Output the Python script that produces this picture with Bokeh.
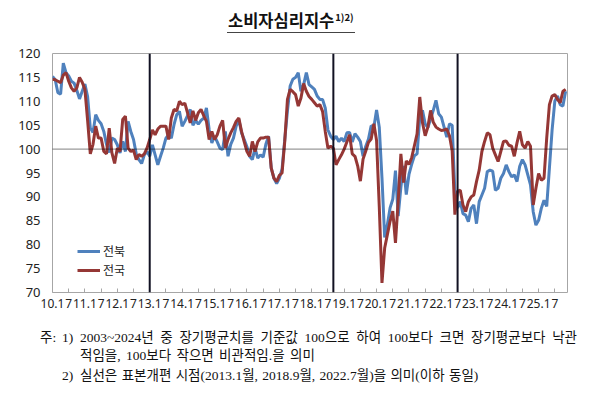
from bokeh.plotting import figure
from bokeh.layouts import column
from bokeh.models import (Range1d, FixedTicker, Span, Div, Legend, LegendItem)
from bokeh.embed import file_html
from bokeh.resources import INLINE

# ---------------- data ----------------
start_year = 2010
years = list(range(2010, 2026))
revision_months = [36, 104, 150]          # 2013.1, 2018.9, 2022.7 (months since 2010.1)
series_names = ["전북", "전국"]

jeonbuk = [
    115.2, 114.5, 111.8, 111.5, 118.0, 116.0, 115.3, 114.2, 113.8, 112.3, 110.5, 112.1,
    113.6, 111.0, 104.4, 103.5, 107.2, 106.0, 105.3, 103.7, 101.0, 99.3, 102.3, 102.0,
    100.9, 99.2, 101.6, 99.5, 105.8, 103.7, 102.0, 99.0, 97.8, 97.0, 98.8, 99.5,
    98.5, 100.9, 98.8, 96.7, 98.5, 100.2, 102.3, 103.0, 102.3, 105.1, 107.2, 107.9,
    104.8, 105.8, 107.0, 108.3, 105.0, 106.0, 105.2, 106.0, 106.5, 108.6, 104.1, 101.3,
    102.7, 101.5, 100.2, 99.9, 103.7, 98.5, 101.0, 102.3, 104.8, 106.2, 103.4, 102.0,
    100.5, 98.5, 97.8, 100.2, 98.1, 98.8, 98.3, 101.0, 102.7, 96.0, 93.9, 92.8,
    93.9, 95.8, 102.0, 108.0, 113.2, 114.6, 115.0, 116.0, 112.1, 113.5, 116.0, 113.5,
    113.0, 112.5, 111.1, 110.4, 110.4, 108.6, 104.0, 102.7, 102.0, 102.7, 101.6, 102.3,
    101.6, 103.4, 103.5, 101.5, 103.2, 102.5, 101.6, 98.5, 100.6, 102.1, 104.9, 104.6,
    108.2, 104.6, 94.0, 81.5, 84.2, 87.7, 89.5, 95.5, 86.0, 92.0, 96.5, 90.5,
    94.7, 96.8, 98.6, 99.0, 106.7, 108.1, 105.3, 104.5, 106.3, 108.1, 110.2, 107.4,
    106.7, 104.6, 102.5, 105.3, 105.0, 91.0, 87.7, 89.0, 86.5, 86.2, 84.8, 87.6,
    88.3, 84.4, 89.0, 90.4, 91.8, 95.3, 95.6, 95.4, 91.4, 91.8, 93.9, 94.9,
    96.7, 95.3, 94.2, 94.6, 93.2, 96.4, 97.8, 96.7, 94.6, 92.5, 86.9, 84.1,
    85.1, 87.6, 89.3, 88.0, 96.0, 104.0, 110.0, 111.1, 109.3, 109.0, 112.1,
]

jeonguk = [
    114.6, 114.5, 114.2, 113.9, 115.5, 116.0, 114.2, 112.8, 112.1, 112.8, 115.0, 114.0,
    112.5, 106.0, 99.0, 101.0, 104.8, 102.3, 102.3, 99.5, 99.0, 104.4, 99.2, 97.0,
    100.2, 99.5, 106.2, 106.9, 100.2, 99.5, 99.8, 97.8, 98.9, 98.5, 99.0, 100.2,
    102.0, 104.0, 103.0, 104.2, 104.8, 104.8, 104.8, 102.0, 106.5, 108.3, 108.0, 110.0,
    109.3, 109.6, 107.6, 105.5, 108.0, 106.0, 107.6, 108.3, 107.0, 105.8, 102.0, 103.7,
    102.0, 103.0, 104.8, 106.0, 100.2, 102.0, 103.4, 104.5, 105.8, 106.5, 103.7, 101.5,
    99.5, 98.5, 101.6, 99.5, 101.5, 102.3, 102.3, 102.5, 102.5, 96.0, 93.9, 93.2,
    94.5, 95.0, 101.6, 110.4, 112.5, 112.0, 111.4, 109.0, 110.7, 113.7, 112.1, 111.0,
    110.4, 109.7, 109.0, 109.3, 107.9, 103.7, 100.2, 100.6, 100.2, 96.7, 97.8, 98.8,
    100.0, 101.5, 103.0, 99.0, 98.5, 96.5, 93.3, 97.9, 99.6, 101.4, 102.1, 105.3,
    101.8, 88.0, 72.0, 79.3, 82.1, 84.9, 87.0, 80.4, 89.1, 99.0, 93.0, 97.5,
    96.8, 98.2, 100.7, 103.2, 110.9, 105.5, 102.8, 104.6, 108.1, 105.6, 104.6, 104.2,
    103.9, 104.0, 104.2, 102.8, 99.6, 86.3, 91.2, 91.4, 88.3, 86.9, 89.0, 90.0,
    90.4, 93.2, 95.6, 99.5, 101.6, 103.4, 103.0, 100.2, 98.8, 97.4, 99.5, 101.6,
    101.7, 100.8, 100.6, 98.5, 101.3, 103.7, 100.9, 100.2, 101.6, 100.6, 88.3, 91.8,
    94.9, 93.5, 93.9, 102.3, 109.3, 111.1, 111.4, 110.4, 109.7, 112.1, 112.5,
]

months = list(range(len(jeonbuk)))
y_ticks = [70, 75, 80, 85, 90, 95, 100, 105, 110, 115, 120]
x_tick_months = [12 * (y - start_year) + k for y in years for k in (0, 6)]
x_tick_labels = [f"{y % 100}.1" if k == 0 else "7" for y in years for k in (0, 6)]

title_text = "소비자심리지수"
title_sup = "1)2)"
note_1 = "2003~2024년 중 장기평균치를 기준값 100으로 하여 100보다 크면 장기평균보다 낙관"
note_1b = "적임을, 100보다 작으면 비관적임.을 의미"
note_2 = "실선은 표본개편 시점(2013.1월, 2018.9월, 2022.7월)을 의미(이하 동일)"

# ---------------- layout ----------------
W = 584
TOP_H = 40
FRAME_L, FRAME_R, FRAME_T, FRAME_B = 52, 567, 53, 292
FIG_H = 280
X0, X1 = 0, 190.7
Y0, Y1 = 70, 120

BLUE = "#4F81BD"
RED = "#953735"
SANS = "Noto Sans"
KR = "Noto Sans CJK KR"
NOTE_FONT = "'Liberation Serif', 'Noto Sans CJK KR', serif"

title_html = (
    f'<div style="position:relative;width:{W}px;height:{TOP_H}px;">'
    f'<span style="position:absolute;left:227px;top:7px;white-space:nowrap;'
    f"font-family:'Noto Sans CJK KR';font-size:16.5px;font-weight:bold;color:#111;"
    f'line-height:20px;border-bottom:1.6px solid #444;padding:0 1px 2px 1px;">'
    f'{title_text}<span style="font-size:9.5px;vertical-align:6px;margin-left:1px;">{title_sup}</span>'
    f'</span></div>'
)
title_div = Div(text=title_html, width=W, height=TOP_H, margin=0)

p = figure(width=W, height=FIG_H,
           x_range=Range1d(X0, X1), y_range=Range1d(Y0, Y1),
           output_backend="svg", toolbar_location=None,
           min_border_left=FRAME_L, min_border_right=W - FRAME_R,
           min_border_top=FRAME_T - TOP_H,
           min_border_bottom=FIG_H - (FRAME_B - TOP_H), margin=0)
p.grid.visible = False
p.outline_line_color = "#A6A6A6"
p.outline_line_width = 1
p.background_fill_color = "white"
p.border_fill_color = "white"

xa = p.xaxis[0]
xa.ticker = FixedTicker(ticks=x_tick_months)
xa.major_label_overrides = {m: lab for m, lab in zip(x_tick_months, x_tick_labels)}
xa.major_tick_in = 4
xa.major_tick_out = 0
xa.major_tick_line_color = "#A6A6A6"
xa.minor_tick_line_color = None
xa.axis_line_color = None
xa.major_label_text_font = SANS
xa.major_label_text_font_size = "12px"
xa.major_label_text_color = "#222222"
xa.major_label_standoff = 6

ya = p.yaxis[0]
ya.ticker = FixedTicker(ticks=y_ticks)
ya.major_tick_in = 0
ya.major_tick_out = 0
ya.minor_tick_line_color = None
ya.axis_line_color = None
ya.major_label_text_font = SANS
ya.major_label_text_font_size = "13px"
ya.major_label_text_color = "#222222"
ya.major_label_standoff = 12

p.add_layout(Span(location=100, dimension="width", line_color="#000000",
                  line_width=1, line_dash="1 1"))
for m in revision_months:
    p.add_layout(Span(location=m, dimension="height", line_color="#111122", line_width=2))

rb = p.line(months, jeonbuk, line_color=BLUE, line_width=3)
rr = p.line(months, jeonguk, line_color=RED, line_width=3)

legend = Legend(items=[LegendItem(label=series_names[0], renderers=[rb]),
                       LegendItem(label=series_names[1], renderers=[rr])],
                location=(25, 14), padding=0, margin=0, spacing=2,
                glyph_width=23, glyph_height=16, label_height=16, label_standoff=3,
                label_text_font=KR, label_text_font_size="12px",
                label_text_color="#222222",
                border_line_color=None, background_fill_alpha=0)
p.add_layout(legend)

# notes
NOTES_TOP = TOP_H + FIG_H          # 320
NOTES_H = 395 - NOTES_TOP
line_tops = [338 - NOTES_TOP - 9, 356 - NOTES_TOP - 9, 376 - NOTES_TOP - 9]
base = (f"position:absolute;white-space:nowrap;font-family:{NOTE_FONT};"
        f"font-size:13.5px;line-height:18px;color:#111;")
notes_html = (
    f'<div style="position:relative;width:{W}px;height:{NOTES_H}px;">'
    f'<span style="{base}left:40px;top:{line_tops[0]}px;">주:</span>'
    f'<span style="{base}left:62px;top:{line_tops[0]}px;">1)</span>'
    f'<span style="{base}left:80px;top:{line_tops[0]}px;width:497px;display:block;'
    f'text-align:justify;text-align-last:justify;">{note_1}</span>'
    f'<span style="{base}left:80px;top:{line_tops[1]}px;word-spacing:2px;">{note_1b}</span>'
    f'<span style="{base}left:62px;top:{line_tops[2]}px;">2)</span>'
    f'<span style="{base}left:80px;top:{line_tops[2]}px;word-spacing:1px;">{note_2}</span>'
    f'</div>'
)
notes_div = Div(text=notes_html, width=W, height=NOTES_H, margin=0)

layout = column(title_div, p, notes_div, spacing=0)

open("out.html", "w").write(file_html(layout, INLINE))
